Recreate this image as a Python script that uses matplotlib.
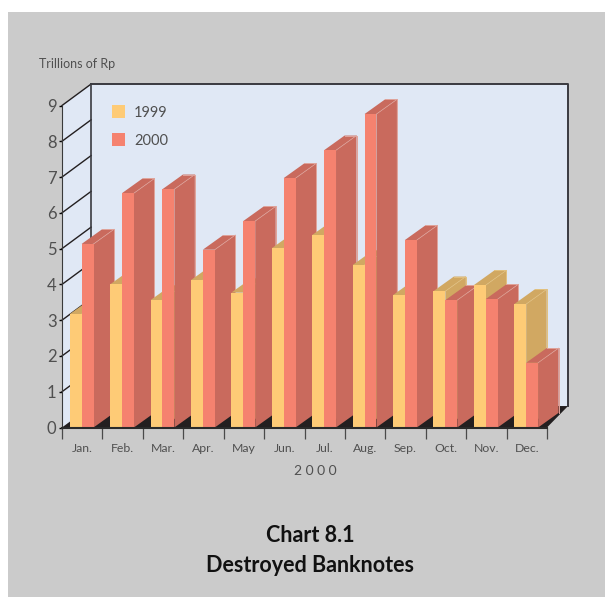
import matplotlib
matplotlib.use("Agg")
import matplotlib.pyplot as plt
from matplotlib.patches import Polygon

months = ["Jan.", "Feb.", "Mar.", "Apr.", "May", "Jun.", "Jul.", "Aug.", "Sep.", "Oct.", "Nov.", "Dec."]
values_1999 = [3.17, 4.00, 3.56, 4.12, 3.77, 5.01, 5.38, 4.54, 3.70, 3.81, 3.98, 3.45]
values_2000 = [5.13, 6.55, 6.66, 4.97, 5.77, 6.97, 7.75, 8.76, 5.24, 3.56, 3.59, 1.81]
y_ticks = [0, 1, 2, 3, 4, 5, 6, 7, 8, 9]

W, H = 605, 597
plt.rcParams["font.family"] = ["Lato", "DejaVu Sans"]

TEXT = "#505050"
DARK = "#231f20"
WALL = "#e0e8f5"

# depth of the bars and of the box, in data units
BAR_W = 0.295
BAR_START = 0.19
BAR_DX = 0.507
BAR_DY = 0.41
BOX_DX_L = 0.72
BOX_DX_R = 0.52
BOX_DY = 0.6


def bar3d(ax, x, value, front, shade, light):
    ax.add_patch(Polygon([(x + BAR_W, 0), (x + BAR_W + BAR_DX, BAR_DY),
                          (x + BAR_W + BAR_DX, value + BAR_DY), (x + BAR_W, value)],
                         facecolor=shade, edgecolor="none", clip_on=False, zorder=3))
    ax.add_patch(Polygon([(x, value), (x + BAR_DX, value + BAR_DY),
                          (x + BAR_W + BAR_DX, value + BAR_DY), (x + BAR_W, value)],
                         facecolor=shade, edgecolor="none", clip_on=False, zorder=3))
    # thin light edges on the depth faces
    ax.plot([x + BAR_W, x + BAR_W + BAR_DX], [value, value + BAR_DY],
            color=light, lw=0.5, clip_on=False, zorder=3)
    ax.plot([x + BAR_DX, x + BAR_W + BAR_DX, x + BAR_W + BAR_DX], [value + BAR_DY, value + BAR_DY, BAR_DY],
            color=light, lw=0.7, clip_on=False, zorder=3)
    ax.add_patch(Polygon([(x, 0), (x + BAR_W, 0), (x + BAR_W, value), (x, value)],
                         facecolor=front, edgecolor="none", clip_on=False, zorder=3))


fig = plt.figure(figsize=(W / 100, H / 100), dpi=100, facecolor="white")
fig.patches.append(plt.Rectangle((8 / W, 0), 597 / W, 585 / H, transform=fig.transFigure,
                                 facecolor="#cbcbcb", edgecolor="none", zorder=-1))

ax = fig.add_axes([62 / W, 1 - 427.5 / H, 485 / W, 322 / H])
ax.set_xlim(0, 12)
ax.set_ylim(0, 9)
ax.patch.set_visible(False)

# back wall, left wall, floor
ax.add_patch(Polygon([(BOX_DX_L, BOX_DY), (12 + BOX_DX_R, BOX_DY), (12 + BOX_DX_R, 9 + BOX_DY), (BOX_DX_L, 9 + BOX_DY)],
                     facecolor=WALL, edgecolor="none", clip_on=False))
ax.add_patch(Polygon([(0, 0), (BOX_DX_L, BOX_DY), (BOX_DX_L, 9 + BOX_DY), (0, 9)],
                     facecolor=WALL, edgecolor="none", clip_on=False))
ax.add_patch(Polygon([(0, 0), (12, 0), (12 + BOX_DX_R, BOX_DY), (BOX_DX_L, BOX_DY)],
                     facecolor=DARK, edgecolor="none", clip_on=False))

for t in y_ticks[1:]:
    ax.plot([0, BOX_DX_L], [t, t + BOX_DY], color=DARK, lw=1, clip_on=False)
ax.plot([BOX_DX_L, BOX_DX_L], [BOX_DY, 9 + BOX_DY], color="#3a3a40", lw=1.2, clip_on=False)
ax.plot([BOX_DX_L, 12 + BOX_DX_R, 12 + BOX_DX_R], [9 + BOX_DY, 9 + BOX_DY, BOX_DY],
        color="#3a3a40", lw=1.4, clip_on=False)

for i in range(len(months)):
    bar3d(ax, i + BAR_START, values_1999[i], "#fecb76", "#d1a862", "#e2c07e")
    bar3d(ax, i + BAR_START + BAR_W, values_2000[i], "#f5826f", "#c96a5d", "#dfa39a")

ax.spines["top"].set_visible(False)
ax.spines["right"].set_visible(False)
ax.spines["left"].set_color("#3a3a3a")
ax.spines["bottom"].set_color("#2a2a2a")
ax.spines["bottom"].set_linewidth(1.5)
ax.spines["bottom"].set_zorder(4)
ax.set_xticks(range(13))
ax.set_xticklabels([])
ax.set_xticks([i + 0.5 for i in range(12)], minor=True)
ax.set_xticklabels(months, minor=True, fontsize=8.8, color=TEXT)
ax.tick_params(axis="x", which="major", length=8, width=0.9, color="#4a4a4a")
ax.tick_params(axis="x", which="minor", length=0, pad=11)
ax.set_yticks(y_ticks)
ax.tick_params(axis="y", length=2, width=1, labelsize=12, labelcolor=TEXT, pad=2)

fig.text(315.5 / W, 1 - 471 / H, "2 0 0 0", fontsize=10, color=TEXT, ha="center", va="center")
fig.text(39 / W, 1 - 64 / H, "Trillions of Rp", fontsize=9, color=TEXT, va="center")

# legend drawn by hand, the squares are flat
for yr, col, ypx in [("1999", "#fecb76", 112), ("2000", "#f5826f", 140)]:
    fig.patches.append(plt.Rectangle((112 / W, 1 - (ypx + 6) / H), 13 / W, 13 / H, transform=fig.transFigure,
                                     facecolor=col, edgecolor="none", zorder=5))
    fig.text(134 / W, 1 - (ypx + 1) / H, yr, fontsize=10.5, color=TEXT, va="center")

fig.text(310 / W, 1 - 536 / H, "Chart 8.1", fontsize=15.5, fontweight="bold", color="#111111", ha="center", va="center")
fig.text(310 / W, 1 - 565 / H, "Destroyed Banknotes", fontsize=15.5, fontweight="bold", color="#111111", ha="center", va="center")

fig.savefig("out.png", dpi=100, facecolor="white")
